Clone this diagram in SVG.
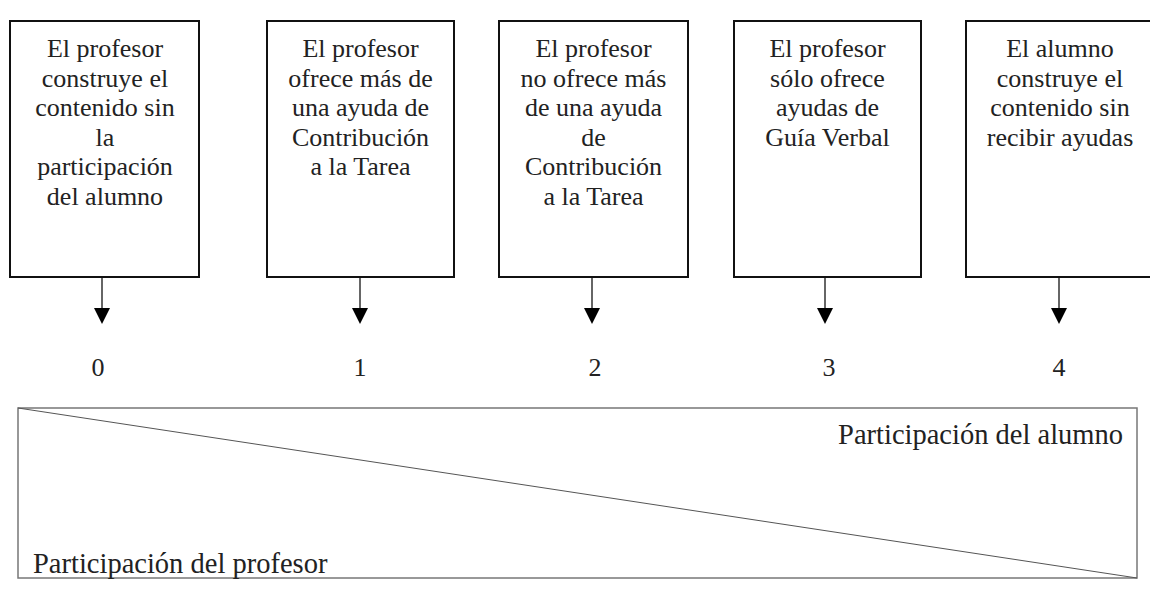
<svg xmlns="http://www.w3.org/2000/svg" width="1150" height="597" viewBox="0 0 1150 597">
<style>
.box{fill:#fff;stroke:#111;stroke-width:2}
text{font-family:'Liberation Serif','Times New Roman',Times,'DejaVu Serif',serif;fill:#222}
.t{font-size:26px;text-anchor:middle}
.n{font-size:26px;text-anchor:middle}
.lbl{font-size:28.5px}
.ln{stroke:#333;stroke-width:1.5}
.ah{fill:#000}
</style>
<rect width="1150" height="597" fill="#fff"/>
<g id="node0">
<rect class="box" x="10" y="21" width="189" height="256"/>
<text class="t"><tspan x="105" y="57">El profesor</tspan><tspan x="105" y="86.5">construye el</tspan><tspan x="105" y="116">contenido sin</tspan><tspan x="105" y="145.5">la</tspan><tspan x="105" y="175">participación</tspan><tspan x="105" y="204.5">del alumno</tspan></text>
</g>
<g id="node1">
<rect class="box" x="267" y="21" width="187" height="256"/>
<text class="t"><tspan x="360.5" y="57">El profesor</tspan><tspan x="360.5" y="86.5">ofrece más de</tspan><tspan x="360.5" y="116">una ayuda de</tspan><tspan x="360.5" y="145.5">Contribución</tspan><tspan x="360.5" y="175">a la Tarea</tspan></text>
</g>
<g id="node2">
<rect class="box" x="499" y="21" width="189" height="256"/>
<text class="t"><tspan x="593.5" y="57">El profesor</tspan><tspan x="593.5" y="86.5">no ofrece más</tspan><tspan x="593.5" y="116">de una ayuda</tspan><tspan x="593.5" y="145.5">de</tspan><tspan x="593.5" y="175">Contribución</tspan><tspan x="593.5" y="204.5">a la Tarea</tspan></text>
</g>
<g id="node3">
<rect class="box" x="734" y="21" width="187" height="256"/>
<text class="t"><tspan x="827.5" y="57">El profesor</tspan><tspan x="827.5" y="86.5">sólo ofrece</tspan><tspan x="827.5" y="116">ayudas de</tspan><tspan x="827.5" y="145.5">Guía Verbal</tspan></text>
</g>
<g id="node4">
<rect class="box" x="966" y="21" width="188" height="256"/>
<text class="t"><tspan x="1060" y="57">El alumno</tspan><tspan x="1060" y="86.5">construye el</tspan><tspan x="1060" y="116">contenido sin</tspan><tspan x="1060" y="145.5">recibir ayudas</tspan></text>
</g>
<g id="connectors">
<line class="ln" x1="102" y1="278" x2="102" y2="310"/><polygon class="ah" points="94,308 110,308 102,324"/>
<line class="ln" x1="360" y1="278" x2="360" y2="310"/><polygon class="ah" points="352,308 368,308 360,324"/>
<line class="ln" x1="592" y1="278" x2="592" y2="310"/><polygon class="ah" points="584,308 600,308 592,324"/>
<line class="ln" x1="825" y1="278" x2="825" y2="310"/><polygon class="ah" points="817,308 833,308 825,324"/>
<line class="ln" x1="1059" y1="278" x2="1059" y2="310"/><polygon class="ah" points="1051,308 1067,308 1059,324"/>
</g>
<g id="numbers">
<text class="n" x="98" y="376">0</text>
<text class="n" x="360" y="376">1</text>
<text class="n" x="595" y="376">2</text>
<text class="n" x="829" y="376">3</text>
<text class="n" x="1059" y="376">4</text>
</g>
<g id="scale">
<rect x="18" y="408" width="1119" height="170" fill="none" stroke="#777" stroke-width="1.5"/>
<line x1="18" y1="408" x2="1137" y2="578" stroke="#555" stroke-width="1"/>
<text class="lbl" x="1123" y="444" text-anchor="end">Participación del alumno</text>
<text class="lbl" x="33" y="573">Participación del profesor</text>
</g>
</svg>
